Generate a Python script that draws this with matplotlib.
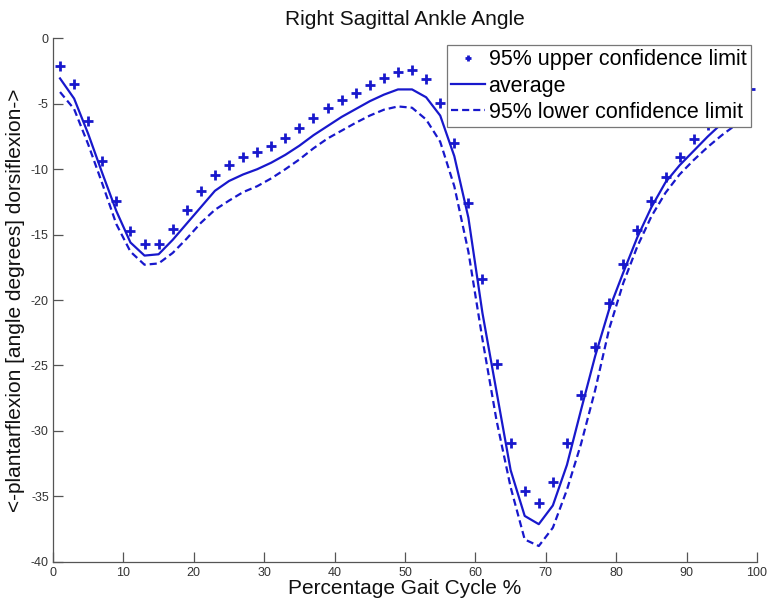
import matplotlib
matplotlib.use("Agg")
import matplotlib.pyplot as plt
import numpy as np

plt.rcParams['font.family'] = ['Liberation Sans', 'DejaVu Sans']
plt.rcParams['axes.unicode_minus'] = False

gait_pct = list(range(1, 100, 2))

upper_ci = [-2.1, -3.5, -6.3, -9.4, -12.4, -14.7, -15.75, -15.7, -14.6, -13.1,
            -11.65, -10.45, -9.65, -9.1, -8.72, -8.23, -7.6, -6.83, -6.07, -5.35,
            -4.72, -4.16, -3.57, -3.06, -2.57, -2.45, -3.14, -4.9, -8.0, -12.55,
            -18.37, -24.92, -30.89, -34.6, -35.5, -33.94, -30.89, -27.22, -23.58, -20.26,
            -17.28, -14.66, -12.44, -10.58, -9.05, -7.72, -6.6, -5.6, -4.7, -3.9]

average = [-3.06, -4.6, -7.3, -10.3, -13.2, -15.6, -16.6, -16.5, -15.4, -14.15,
           -12.9, -11.65, -10.9, -10.4, -10.0, -9.5, -8.9, -8.2, -7.4, -6.7,
           -6.0, -5.4, -4.8, -4.3, -3.9, -3.9, -4.5, -5.9, -9.0, -13.7,
           -21.0, -27.0, -33.0, -36.5, -37.13, -35.7, -32.6, -28.4, -24.3, -20.7,
           -17.9, -15.2, -12.9, -11.0, -9.7, -8.6, -7.5, -6.5, -5.7, -5.0]

lower_ci = [-4.1, -5.4, -8.1, -11.1, -14.2, -16.3, -17.3, -17.2, -16.4, -15.3,
            -14.1, -13.1, -12.4, -11.75, -11.3, -10.7, -10.0, -9.25, -8.4, -7.65,
            -7.05, -6.45, -5.9, -5.45, -5.2, -5.3, -6.2, -7.9, -11.3, -16.3,
            -23.0, -29.2, -34.3, -38.3, -38.8, -37.4, -34.5, -31.0, -26.9, -22.2,
            -18.7, -15.9, -13.6, -11.8, -10.4, -9.3, -8.3, -7.4, -6.6, -6.0]

x_ticks = [0, 10, 20, 30, 40, 50, 60, 70, 80, 90, 100]
y_ticks = [-40, -35, -30, -25, -20, -15, -10, -5, 0]

blue = '#1818cc'
axis_gray = '#555555'

fig = plt.figure(figsize=(7.67, 6.0), dpi=100)
ax = fig.add_axes([0.0691, 0.0638, 0.9179, 0.8722])

ax.plot(gait_pct, upper_ci, linestyle='none', marker='+', markersize=7,
        markeredgewidth=2.0, color=blue, label='95% upper confidence limit')
ax.plot(gait_pct, average, linestyle='-', linewidth=1.6, color=blue, label='average')
ax.plot(gait_pct, lower_ci, linestyle=(0, (3.2, 1.8)), linewidth=1.6, color=blue,
        label='95% lower confidence limit')

ax.set_xlim(0, 100)
ax.set_ylim(-40, 0)
ax.set_xticks(x_ticks)
ax.set_yticks(y_ticks)
ax.set_xticklabels([str(v) for v in x_ticks])
ax.set_yticklabels([str(v) for v in y_ticks])

for s in ['top', 'right']:
    ax.spines[s].set_visible(False)
for s in ['left', 'bottom']:
    ax.spines[s].set_color(axis_gray)
    ax.spines[s].set_linewidth(0.9)
ax.tick_params(direction='in', length=7, width=0.9, colors=axis_gray,
               labelsize=9, labelcolor='#333333')
ax.tick_params(axis='x', pad=4)
ax.tick_params(axis='y', pad=3)

ax.set_title('Right Sagittal Ankle Angle', fontsize=15, pad=10, color='#111111')
ax.set_xlabel('Percentage Gait Cycle %', fontsize=15, labelpad=0, color='#111111')
ax.set_ylabel('<-plantarflexion [angle degrees] dorsiflexion->', fontsize=15,
              labelpad=4, color='#111111')

leg = ax.legend(loc='upper right', fontsize=15.5, frameon=True, fancybox=False,
                edgecolor='#777777', framealpha=1.0, borderpad=0.2,
                labelspacing=0.25, handlelength=1.6, handletextpad=0.15,
                borderaxespad=0.3, markerscale=0.7)
leg.get_frame().set_linewidth(0.9)

fig.savefig('out.png', dpi=100)
